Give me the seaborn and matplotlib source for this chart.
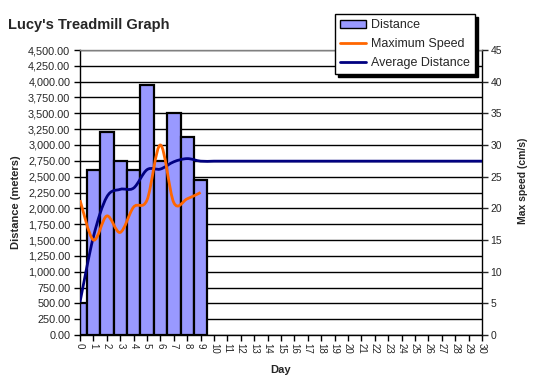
import numpy as np
import matplotlib
matplotlib.use('Agg')
import matplotlib.pyplot as plt
from matplotlib.path import Path
from matplotlib.patches import PathPatch, Patch
from matplotlib.lines import Line2D
from matplotlib.ticker import FuncFormatter
import seaborn as sns

days = list(range(31))
bar_days = list(range(10))
distance = [500, 2600, 3200, 2750, 2600, 3950, 2750, 3500, 3125, 2450]
max_speed = [21.3, 15.0, 18.8, 16.2, 20.2, 21.3, 30.0, 20.9, 21.5, 22.5]
avg_distance = [520, 1550, 2180, 2300, 2320, 2610, 2620, 2735, 2785, 2745,
                 2745, 2745, 2745, 2745, 2745, 2745, 2745, 2745, 2745, 2745,
                 2745, 2745, 2745, 2745, 2745, 2745, 2745, 2745, 2745, 2745,
                 2745]

sns.set_theme(style='white')
plt.rcParams['font.family'] = ['Liberation Sans', 'DejaVu Sans']


def smooth_path(xs, ys):
    # excel-like smoothed line: bezier segments through the points
    pts = np.column_stack([xs, ys]).astype(float)
    verts = [pts[0]]
    codes = [Path.MOVETO]
    n = len(pts)
    for i in range(n - 1):
        p0 = pts[i - 1] if i > 0 else pts[i]
        p1 = pts[i]
        p2 = pts[i + 1]
        p3 = pts[i + 2] if i + 2 < n else pts[i + 1]
        c1 = p1 + (p2 - p0) / 6
        c2 = p2 - (p3 - p1) / 6
        verts += [c1, c2, p2]
        codes += [Path.CURVE4] * 3
    return Path(verts, codes)


fig = plt.figure(figsize=(5.38, 3.83), dpi=100)
ax = fig.add_axes([80 / 538, 1 - 335 / 383, 402 / 538, 285 / 383])

sns.barplot(x=bar_days, y=distance, native_scale=True, width=1.0,
            color='#9999FF', saturation=1, edgecolor='black', linewidth=1.6,
            ax=ax, zorder=2)

ax.set_xlim(0, 30)
ax.set_ylim(0, 4500)
ax.set_yticks(np.arange(0, 4501, 250))
ax.yaxis.set_major_formatter(FuncFormatter(lambda v, p: f'{v:,.2f}'))
ax.set_xticks(days)
ax.set_xticklabels([str(d) for d in days], rotation=-90)
ax.grid(axis='y', color='black', linewidth=1, zorder=0)
ax.set_axisbelow(True)
ax.tick_params(axis='both', which='major', length=4, width=1, color='black',
               labelsize=7.8, pad=3, direction='out', bottom=True, left=True)
ax.tick_params(axis='x', labelsize=7, pad=2)
for s in ['left', 'bottom', 'right']:
    ax.spines[s].set_color('black')
    ax.spines[s].set_linewidth(1)
ax.spines['top'].set_color('#808080')
ax.spines['top'].set_linewidth(1)

ax.add_patch(PathPatch(smooth_path(days, avg_distance), facecolor='none',
                       edgecolor='#000080', linewidth=2, zorder=4))

ax2 = ax.twinx()
ax2.set_ylim(0, 45)
ax2.set_yticks(np.arange(0, 46, 5))
ax2.tick_params(axis='y', length=4, width=1, labelsize=7.5, pad=2, direction='out', right=True)
for s in ax2.spines.values():
    s.set_visible(False)
ax2.add_patch(PathPatch(smooth_path(bar_days, max_speed), facecolor='none',
                        edgecolor='#FF6600', linewidth=2, zorder=3))

ax.set_xlabel('Day', fontsize=8, fontweight='bold', labelpad=8)
ax.set_ylabel('Distance (meters)', fontsize=8, fontweight='bold')
ax.yaxis.set_label_coords(-0.147, 0.467)
ax2.set_ylabel('Max speed (cm/s)', fontsize=7.5, fontweight='bold')
ax2.yaxis.set_label_coords(1.09, 0.54)
ax2.grid(False)

fig.text(8 / 538, 1 - 29 / 383, "Lucy's Treadmill Graph", fontsize=10.5,
         fontweight='bold', ha='left', va='baseline')

handles = [Patch(facecolor='#9999FF', edgecolor='black', linewidth=1),
           Line2D([], [], color='#FF6600', linewidth=2),
           Line2D([], [], color='#000080', linewidth=2)]
leg = fig.legend(handles, ['Distance', 'Maximum Speed', 'Average Distance'],
                 loc='upper left', bbox_to_anchor=(335 / 538, 1 - 14 / 383),
                 fontsize=9, frameon=True, fancybox=False, framealpha=1,
                 edgecolor='black', handlelength=2.1, handleheight=0.6,
                 handletextpad=0.4, borderpad=0.4, labelspacing=0.55,
                 borderaxespad=0,
                 shadow={'color': 'black', 'alpha': 1, 'ox': 2, 'oy': -2})
leg.get_frame().set_linewidth(1)

fig.savefig('out.png', dpi=100)
